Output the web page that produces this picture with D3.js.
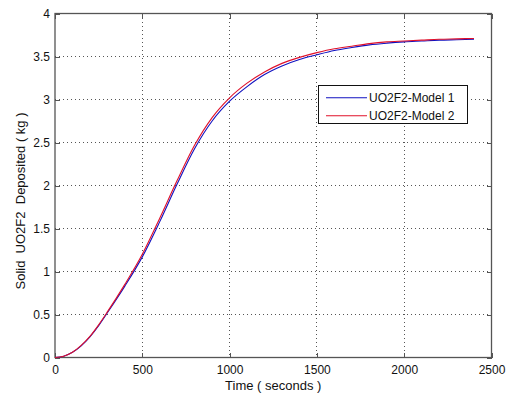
<!DOCTYPE html>
<html>
<head>
<meta charset="utf-8">
<script src="https://cdn.jsdelivr.net/npm/d3@7"></script>
<style>
  html, body { margin: 0; padding: 0; background: #fff; }
  svg { display: block; }
  text { font-family: "Liberation Sans", Arial, Helvetica, sans-serif; fill: #111; }
</style>
</head>
<body>
<svg id="chart" width="511" height="400"></svg>
<script>
// Deposited solid UO2F2 (kg) versus time (s) for two models
const timeSec = [0, 50, 100, 150, 200, 250, 300, 400, 500, 600, 700, 800, 900, 1000,
                 1100, 1200, 1300, 1400, 1500, 1600, 1700, 1800, 1900, 2000, 2100, 2200, 2300, 2400];
const model1 = [0, 0.015, 0.06, 0.135, 0.24, 0.37, 0.52, 0.83, 1.17, 1.58, 2.02, 2.43, 2.75, 2.98,
                3.15, 3.29, 3.39, 3.465, 3.52, 3.57, 3.605, 3.635, 3.655, 3.67, 3.68, 3.69, 3.695, 3.70];
const model2 = [0, 0.015, 0.06, 0.14, 0.245, 0.38, 0.53, 0.85, 1.20, 1.62, 2.06, 2.47, 2.79, 3.02,
                3.19, 3.32, 3.42, 3.49, 3.545, 3.59, 3.62, 3.65, 3.67, 3.68, 3.69, 3.70, 3.705, 3.71];
const seriesNames = ["UO2F2-Model 1", "UO2F2-Model 2"];
const seriesColors = ["#1010c0", "#e0102a"];
const xTicks = [0, 500, 1000, 1500, 2000, 2500];
const yTicks = [0, 0.5, 1, 1.5, 2, 2.5, 3, 3.5, 4];
const xTitle = "Time ( seconds )";
const yTitle = "Solid  UO2F2  Deposited ( kg )";

const svg = d3.select("#chart");
const m = { left: 55, right: 491.5, top: 13.5, bottom: 357.5 };

const x = d3.scaleLinear().domain([0, 2500]).range([m.left, m.right]);
const y = d3.scaleLinear().domain([0, 4]).range([m.bottom, m.top]);

// dotted grid
const grid = svg.append("g");
grid.selectAll("line.gx").data(xTicks.slice(1, -1)).join("line")
  .attr("x1", d => x(d)).attr("x2", d => x(d))
  .attr("y1", m.top).attr("y2", m.bottom)
  .attr("stroke", "#555").attr("stroke-width", 1).attr("stroke-dasharray", "1,3")
  .attr("shape-rendering", "crispEdges");
grid.selectAll("line.gy").data(yTicks.slice(1, -1)).join("line")
  .attr("y1", d => y(d)).attr("y2", d => y(d))
  .attr("x1", m.left).attr("x2", m.right)
  .attr("stroke", "#555").attr("stroke-width", 1).attr("stroke-dasharray", "1,3")
  .attr("shape-rendering", "crispEdges");

// axes with inward ticks on all four sides
const axisColor = "#555";
function styleAxis(g) {
  g.select(".domain").remove();
  g.selectAll(".tick line").attr("stroke", axisColor).attr("shape-rendering", "crispEdges");
  g.selectAll(".tick text").attr("font-size", 12).attr("fill", "#111")
    .style("font-family", '"Liberation Sans", Arial, sans-serif');
}
svg.append("g").attr("transform", `translate(0,${m.bottom})`)
  .call(d3.axisBottom(x).tickValues(xTicks).tickSizeInner(-5).tickSizeOuter(0).tickPadding(8).tickFormat(d3.format("d")))
  .call(styleAxis);
svg.append("g").attr("transform", `translate(0,${m.top})`)
  .call(d3.axisTop(x).tickValues(xTicks).tickSizeInner(-5).tickSizeOuter(0).tickFormat(""))
  .call(styleAxis);
svg.append("g").attr("transform", `translate(${m.left},0)`)
  .call(d3.axisLeft(y).tickValues(yTicks).tickSizeInner(-5).tickSizeOuter(0).tickPadding(5).tickFormat(d => String(d)))
  .call(styleAxis);
svg.append("g").attr("transform", `translate(${m.right},0)`)
  .call(d3.axisRight(y).tickValues(yTicks).tickSizeInner(-5).tickSizeOuter(0).tickFormat(""))
  .call(styleAxis);

svg.append("rect")
  .attr("x", m.left).attr("y", m.top)
  .attr("width", m.right - m.left).attr("height", m.bottom - m.top)
  .attr("fill", "none").attr("stroke", axisColor).attr("stroke-width", 1.3);

// curves
const line = d3.line().x(d => x(d[0])).y(d => y(d[1])).curve(d3.curveMonotoneX);
[model1, model2].forEach((vals, i) => {
  svg.append("path")
    .datum(timeSec.map((t, k) => [t, vals[k]]))
    .attr("d", line)
    .attr("fill", "none")
    .attr("stroke", seriesColors[i])
    .attr("stroke-width", 1.1);
});

// axis titles
svg.append("text")
  .attr("x", (m.left + m.right) / 2).attr("y", 390)
  .attr("text-anchor", "middle").attr("font-size", 13)
  .style("white-space", "pre")
  .text(xTitle);
svg.append("text")
  .attr("transform", `translate(25,${201}) rotate(-90)`)
  .attr("text-anchor", "middle").attr("font-size", 13)
  .style("white-space", "pre")
  .text(yTitle);

// legend
const lg = svg.append("g");
lg.append("rect")
  .attr("x", 318.5).attr("y", 85.5).attr("width", 149).attr("height", 38)
  .attr("fill", "#fff").attr("stroke", "#111").attr("stroke-width", 1);
seriesNames.forEach((name, i) => {
  const ly = 97.7 + i * 18;
  lg.append("line")
    .attr("x1", 326).attr("x2", 367).attr("y1", ly).attr("y2", ly)
    .attr("stroke", seriesColors[i]).attr("stroke-width", 1.1);
  lg.append("text")
    .attr("x", 369).attr("y", ly + 4.3)
    .attr("font-size", 12)
    .text(name);
});
</script>
</body>
</html>
